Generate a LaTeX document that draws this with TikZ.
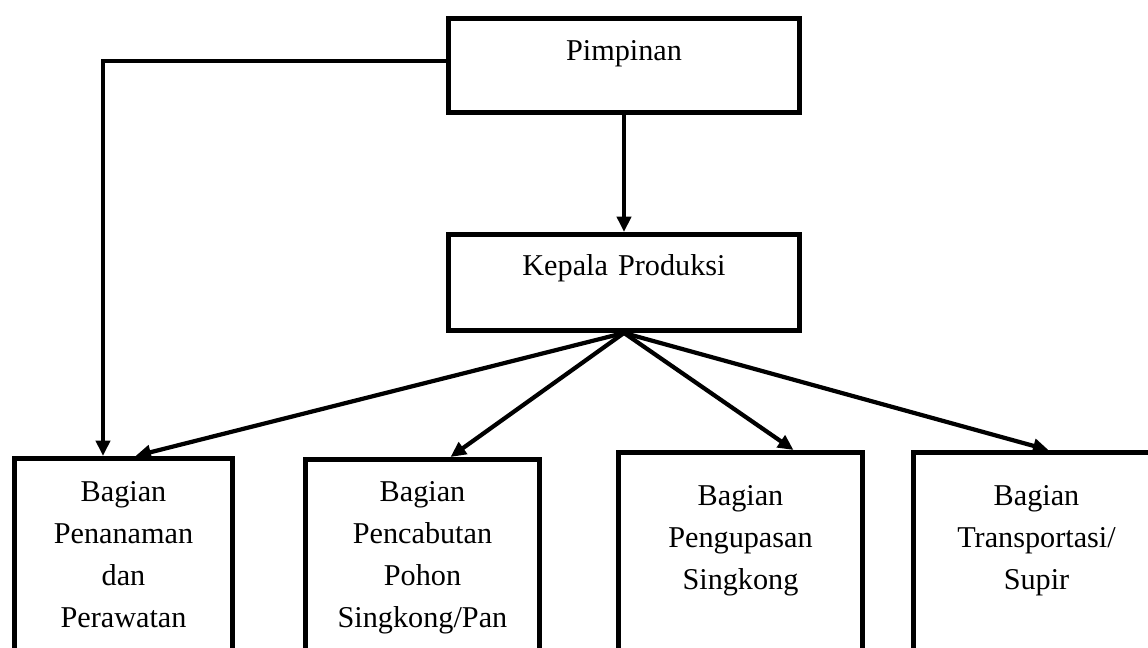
\documentclass[tikz,border=0pt]{standalone}
\usepackage{fontspec}
\setmainfont{Liberation Serif}
\usetikzlibrary{arrows.meta}

\begin{document}
\begin{tikzpicture}[x=0.025cm, y=-0.025cm,
    box/.style={draw, line width=3.5pt, inner sep=0pt, anchor=north west, align=center,
      font=\fontsize{21.5}{29.9}\selectfont},
    conn/.style={line width=3pt, -{Triangle[length=11pt,width=10pt]}}]

    \useasboundingbox (0,0) rectangle (1148,648);
    \clip (0,0) rectangle (1148,648);

    % top
    \node [box, text width=8.775cm, text height=1.05cm, text depth=1.3cm] (pim) at (446,16) {Pimpinan};
    \node [box, text width=8.775cm, text height=1.025cm, text depth=1.375cm] (kp) at (446,232) {Kepala Produksi};

    % bagian
    \node [box, text width=5.45cm, text height=1.075cm, text depth=6cm] (bpen) at (12,456)
      {Bagian\\Penanaman\\dan\\Perawatan};
    \node [box, text width=5.85cm, text height=1.05cm, text depth=6cm] (bpc) at (303,457)
      {Bagian\\Pencabutan\\Pohon\\Singkong/Pan};
    \node [box, text width=6.1cm, text height=1.325cm, text depth=6cm] (bpg) at (616,450)
      {Bagian\\Pengupasan\\Singkong};
    \node [box, text width=6.15cm, text height=1.325cm, text depth=6cm] (btr) at (911,450)
      {Bagian\\Transportasi/\\Supir};

    \coordinate (bend) at (103,61);
    \draw [conn] (pim.west |- bend) -- (bend) -- (bend |- bpen.north);
    \draw [conn] (pim.south) -- (kp.north);

    \draw [conn] (kp.south) -- ([xshift=0.3cm]bpen.north);
    \draw [conn] (kp.south) -- ([xshift=0.7cm]bpc.north);
    \draw [conn] (kp.south) -- ([xshift=1.325cm]bpg.north);
    \draw [conn] (kp.south) -- ([xshift=0.3cm]btr.north);

\end{tikzpicture}
\end{document}
